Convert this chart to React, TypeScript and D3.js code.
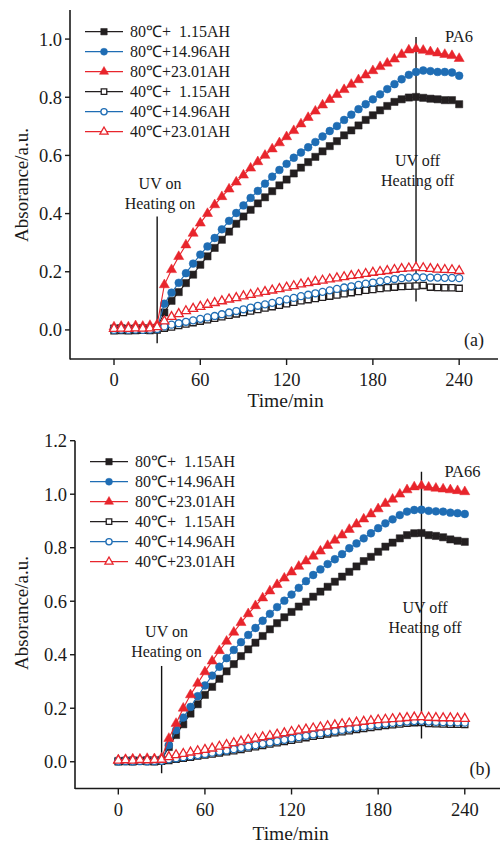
import React from 'react';
import * as d3 from 'd3';

// ---------- data ----------
const TIMES = [0, 5, 10, 15, 20, 25, 30, 35, 40, 45, 50, 55, 60, 65, 70, 75, 80, 85, 90, 95, 100, 105, 110, 115, 120, 125, 130, 135, 140, 145, 150, 155, 160, 165, 170, 175, 180, 185, 190, 195, 200, 205, 210, 215, 220, 225, 230, 235, 240];

// PA6 (panel a)
const PA6_80_115 = [0.005, 0.006, 0.004, 0.005, 0.006, 0.005, 0.008,
  0.06, 0.1, 0.13, 0.161, 0.19, 0.224, 0.253, 0.282, 0.31, 0.338,
  0.365, 0.39, 0.413, 0.435, 0.456, 0.477, 0.497, 0.517, 0.538, 0.558,
  0.577, 0.595, 0.614, 0.632, 0.649, 0.669, 0.686, 0.703, 0.722, 0.738,
  0.755, 0.77, 0.784, 0.793, 0.799, 0.801, 0.798, 0.795, 0.793, 0.79,
  0.79, 0.776];
const PA6_80_1496 = [0.003, 0.004, 0.003, 0.005, 0.004, 0.005, 0.006,
  0.09, 0.128, 0.162, 0.195, 0.228, 0.259, 0.287, 0.316, 0.346, 0.375,
  0.402, 0.428, 0.454, 0.478, 0.503, 0.527, 0.55, 0.571, 0.592, 0.61,
  0.628, 0.646, 0.665, 0.684, 0.701, 0.722, 0.74, 0.759, 0.776, 0.793,
  0.81, 0.828, 0.845, 0.862, 0.877, 0.887, 0.892, 0.89, 0.887, 0.887,
  0.885, 0.874];
const PA6_80_2301 = [0.01, 0.012, 0.01, 0.014, 0.012, 0.015, 0.018,
  0.155, 0.207, 0.252, 0.292, 0.332, 0.367, 0.4, 0.43, 0.458, 0.484,
  0.508, 0.532, 0.556, 0.578, 0.6, 0.622, 0.643, 0.664, 0.685, 0.708,
  0.73, 0.752, 0.773, 0.792, 0.809, 0.826, 0.844, 0.86, 0.876, 0.891,
  0.905, 0.917, 0.931, 0.947, 0.962, 0.966, 0.961, 0.956, 0.952, 0.947,
  0.943, 0.933];
const PA6_40_115 = [-0.003, -0.002, -0.003, -0.002, -0.001, -0.002, 0.0,
  0.006, 0.01, 0.015, 0.02, 0.025, 0.03, 0.035, 0.04, 0.045, 0.05,
  0.055, 0.06, 0.065, 0.07, 0.075, 0.08, 0.085, 0.09, 0.095, 0.1,
  0.104, 0.108, 0.112, 0.116, 0.12, 0.124, 0.128, 0.132, 0.136, 0.139,
  0.142, 0.145, 0.147, 0.149, 0.15, 0.151, 0.153, 0.147, 0.146, 0.145,
  0.145, 0.143];
const PA6_40_1496 = [0.0, 0.001, 0.0, 0.001, 0.0, 0.001, 0.003,
  0.012, 0.018, 0.023, 0.028, 0.033, 0.038, 0.043, 0.048, 0.054, 0.06,
  0.065, 0.071, 0.077, 0.083, 0.088, 0.093, 0.099, 0.105, 0.11, 0.116,
  0.121, 0.126, 0.131, 0.136, 0.141, 0.146, 0.15, 0.155, 0.159, 0.163,
  0.167, 0.171, 0.175, 0.178, 0.18, 0.182, 0.181, 0.18, 0.18, 0.179,
  0.179, 0.178];
const PA6_40_2301 = [0.004, 0.005, 0.004, 0.006, 0.005, 0.006, 0.01,
  0.03, 0.045, 0.055, 0.065, 0.073, 0.08, 0.087, 0.093, 0.099, 0.105,
  0.11, 0.116, 0.121, 0.126, 0.131, 0.136, 0.141, 0.146, 0.151, 0.157,
  0.161, 0.166, 0.17, 0.174, 0.178, 0.182, 0.186, 0.189, 0.193, 0.197,
  0.2, 0.203, 0.207, 0.21, 0.212, 0.215, 0.213, 0.21, 0.208, 0.207,
  0.206, 0.203];

// PA66 (panel b)
const PA66_80_115 = [0.003, 0.004, 0.005, 0.004, 0.006, 0.005, 0.007,
  0.055, 0.1, 0.14, 0.18, 0.215, 0.25, 0.28, 0.31, 0.338, 0.365,
  0.395, 0.42, 0.445, 0.47, 0.495, 0.518, 0.54, 0.56, 0.58, 0.598,
  0.617, 0.636, 0.654, 0.673, 0.692, 0.71, 0.73, 0.75, 0.766, 0.785,
  0.804, 0.819, 0.835, 0.847, 0.854, 0.855, 0.847, 0.844, 0.839, 0.831,
  0.826, 0.822];
const PA66_80_1496 = [0.004, 0.005, 0.006, 0.005, 0.007, 0.006, 0.009,
  0.062, 0.118, 0.165, 0.205, 0.245, 0.285, 0.322, 0.355, 0.387, 0.418,
  0.447, 0.474, 0.5, 0.527, 0.553, 0.578, 0.602, 0.625, 0.65, 0.675,
  0.698, 0.719, 0.739, 0.757, 0.776, 0.798, 0.816, 0.835, 0.854, 0.873,
  0.891, 0.906, 0.922, 0.935, 0.941, 0.942, 0.938, 0.936, 0.935, 0.931,
  0.929, 0.926];
const PA66_80_2301 = [0.006, 0.008, 0.01, 0.009, 0.012, 0.011, 0.014,
  0.087, 0.143, 0.2, 0.25, 0.293, 0.336, 0.376, 0.415, 0.45, 0.484,
  0.52, 0.553, 0.583, 0.612, 0.638, 0.662, 0.686, 0.709, 0.73, 0.75,
  0.768, 0.787, 0.808, 0.828, 0.847, 0.868, 0.888, 0.907, 0.926, 0.945,
  0.965, 0.981, 1.0, 1.016, 1.027, 1.031, 1.026, 1.022, 1.019, 1.016,
  1.013, 1.009];
const PA66_40_115 = [0.0, 0.001, 0.0, 0.002, 0.001, 0.0, 0.002,
  0.005, 0.009, 0.013, 0.017, 0.021, 0.025, 0.029, 0.033, 0.037, 0.041,
  0.046, 0.051, 0.056, 0.061, 0.066, 0.071, 0.076, 0.08, 0.085, 0.09,
  0.095, 0.099, 0.104, 0.108, 0.112, 0.116, 0.12, 0.124, 0.128, 0.132,
  0.135, 0.138, 0.141, 0.144, 0.146, 0.147, 0.143, 0.142, 0.141, 0.14,
  0.14, 0.139];
const PA66_40_1496 = [0.001, 0.002, 0.001, 0.002, 0.001, 0.002, 0.003,
  0.009, 0.013, 0.017, 0.021, 0.025, 0.029, 0.034, 0.038, 0.042, 0.047,
  0.052, 0.057, 0.062, 0.067, 0.072, 0.077, 0.082, 0.087, 0.092, 0.097,
  0.102, 0.106, 0.111, 0.115, 0.119, 0.123, 0.127, 0.131, 0.135, 0.139,
  0.142, 0.145, 0.148, 0.15, 0.152, 0.153, 0.15, 0.149, 0.148, 0.147,
  0.147, 0.146];
const PA66_40_2301 = [0.005, 0.006, 0.005, 0.007, 0.006, 0.007, 0.008,
  0.018, 0.025, 0.03, 0.035, 0.04, 0.045, 0.05, 0.057, 0.063, 0.07,
  0.076, 0.082, 0.087, 0.092, 0.097, 0.102, 0.107, 0.112, 0.117, 0.121,
  0.125, 0.129, 0.133, 0.137, 0.141, 0.144, 0.147, 0.15, 0.153, 0.156,
  0.158, 0.16, 0.162, 0.164, 0.166, 0.167, 0.165, 0.164, 0.163, 0.163,
  0.162, 0.161];

const LEGEND_LABELS = ['80℃+  1.15AH', '80℃+14.96AH', '80℃+23.01AH', '40℃+  1.15AH', '40℃+14.96AH', '40℃+23.01AH'];
const SERIES_COLORS = ['#231f20', '#1f6db4', '#e8252c', '#231f20', '#1f6db4', '#e8252c'];
const SERIES_SHAPES = ['square', 'circle', 'triangle', 'square', 'circle', 'triangle'];
const SERIES_FILLED = [true, true, true, false, false, false];

const X_TICKS = [0, 60, 120, 180, 240];
const Y_TICKS_A = [0, 0.2, 0.4, 0.6, 0.8, 1.0];
const Y_TICKS_B = [0, 0.2, 0.4, 0.6, 0.8, 1.0, 1.2];

const EVENT_TIMES = [30, 210];
const EVENT_SPANS_A = [[-0.046, 0.39], [0.098, 1.007]];
const EVENT_SPANS_B = [[-0.043, 0.358], [0.087, 1.084]];

const FONT = '"Liberation Serif", "Times New Roman", Times, serif';

const symbolType = (s: string) =>
  s === 'square' ? d3.symbolSquare : s === 'circle' ? d3.symbolCircle : d3.symbolTriangle;

function markerPath(shape: string, filled: boolean, scale = 1) {
  const size = filled
    ? (shape === 'square' ? 52 : shape === 'circle' ? 48 : 44)
    : (shape === 'square' ? 38 : shape === 'circle' ? 38 : 36);
  return d3.symbol().type(symbolType(shape)).size(size * scale)() as string;
}

type PanelProps = {
  series: number[][];
  xDomain: [number, number];
  xRange: [number, number];
  yDomain: [number, number];
  yRange: [number, number];
  yTicks: number[];
  spans: number[][];
  legendY: number;
  legendX: number;
  uvOn: [number, number];
  uvOff: [number, number];
  name: string;
  namePos: [number, number];
  tag: string;
  tagPos: [number, number];
  yLabelY: number;
  xLabelY: number;
};

function Panel(p: PanelProps) {
  const x = d3.scaleLinear().domain(p.xDomain).range(p.xRange);
  const y = d3.scaleLinear().domain(p.yDomain).range(p.yRange);
  const line = d3.line<number>().x((_, i) => x(TIMES[i])).y((d) => y(d));
  const fmt = d3.format('.1f');
  const axisX = p.xRange[0];
  const axisY = p.yRange[0];
  const ink = '#1a1a1a';
  return (
    <g fontFamily={FONT}>
      {/* axes */}
      <line x1={axisX} x2={axisX} y1={p.yRange[1]} y2={axisY + 0.5} stroke={ink} strokeWidth={1.6} />
      <line x1={axisX} x2={p.xRange[1]} y1={axisY} y2={axisY} stroke={ink} strokeWidth={1.6} />
      {p.yTicks.map((t) => (
        <g key={'y' + t}>
          <line x1={axisX - 5} x2={axisX} y1={y(t)} y2={y(t)} stroke={ink} strokeWidth={1.4} />
          <text x={axisX - 8} y={y(t)} dy="0.35em" textAnchor="end" fontSize={18.5} fill={ink}>{fmt(t)}</text>
        </g>
      ))}
      {X_TICKS.map((t) => (
        <g key={'x' + t}>
          <line x1={x(t)} x2={x(t)} y1={axisY} y2={axisY + 6} stroke={ink} strokeWidth={1.4} />
          <text x={x(t)} y={axisY + 27} textAnchor="middle" fontSize={18.5} fill={ink}>{t}</text>
        </g>
      ))}
      <text transform={`translate(21,${p.yLabelY}) rotate(-90)`} dy="0.35em" textAnchor="middle" fontSize={19} fill={ink}>Absorance/a.u.</text>
      <text x={x(120) - 1} y={p.xLabelY} textAnchor="middle" fontSize={19.5} fill={ink}>Time/min</text>

      {/* event lines */}
      {EVENT_TIMES.map((t, i) => (
        <line key={'ev' + t} x1={x(t)} x2={x(t)} y1={y(p.spans[i][0])} y2={y(p.spans[i][1])} stroke="#111" strokeWidth={1.4} />
      ))}

      {/* series */}
      {p.series.map((vals, si) => (
        <g key={'s' + si}>
          <path d={line(vals) as string} fill="none" stroke={SERIES_COLORS[si]} strokeWidth={1.1} />
          {vals.map((v, i) => (
            <path
              key={i}
              d={markerPath(SERIES_SHAPES[si], SERIES_FILLED[si])}
              transform={`translate(${x(TIMES[i])},${y(v)})`}
              fill={SERIES_FILLED[si] ? SERIES_COLORS[si] : '#fff'}
              stroke={SERIES_COLORS[si]}
              strokeWidth={SERIES_FILLED[si] ? 0.5 : 1.3}
            />
          ))}
        </g>
      ))}

      {/* legend */}
      {LEGEND_LABELS.map((lab, i) => {
        const ly = p.legendY + i * 20;
        const lx = p.legendX;
        return (
          <g key={'lg' + i}>
            <line x1={lx} x2={lx + 38} y1={ly} y2={ly} stroke={SERIES_COLORS[i]} strokeWidth={1.3} />
            <path
              d={markerPath(SERIES_SHAPES[i], SERIES_FILLED[i], 0.8)}
              transform={`translate(${lx + 19},${ly})`}
              fill={SERIES_FILLED[i] ? SERIES_COLORS[i] : '#fff'}
              stroke={SERIES_COLORS[i]}
              strokeWidth={SERIES_FILLED[i] ? 0.5 : 1.3}
            />
            <text x={lx + 45} y={ly + 5.5} fontSize={16} fill={ink} style={{ whiteSpace: 'pre' }}>{lab}</text>
          </g>
        );
      })}

      {/* annotations */}
      <text x={p.uvOn[0]} y={p.uvOn[1]} textAnchor="middle" fontSize={16} fill={ink}>UV on</text>
      <text x={p.uvOn[0]} y={p.uvOn[1] + 19.5} textAnchor="middle" fontSize={16} fill={ink}>Heating on</text>
      <text x={p.uvOff[0]} y={p.uvOff[1]} textAnchor="middle" fontSize={16} fill={ink}>UV off</text>
      <text x={p.uvOff[0]} y={p.uvOff[1] + 19.5} textAnchor="middle" fontSize={16} fill={ink}>Heating off</text>
      <text x={p.namePos[0]} y={p.namePos[1]} textAnchor="middle" fontSize={16.5} fill={ink}>{p.name}</text>
      <text x={p.tagPos[0]} y={p.tagPos[1]} textAnchor="middle" fontSize={18} fill={ink}>{p.tag}</text>
    </g>
  );
}

export default function App() {
  return (
    <div style={{ position: 'fixed', left: 0, top: 0 }}>
      <svg width={500} height={844} style={{ display: 'block', background: '#fff' }}>
        <Panel
          series={[PA6_80_115, PA6_80_1496, PA6_80_2301, PA6_40_115, PA6_40_1496, PA6_40_2301]}
          xDomain={[-30.6, 267]}
          xRange={[70, 498]}
          yDomain={[-0.1, 1.1]}
          yRange={[359, 10]}
          yTicks={Y_TICKS_A}
          spans={EVENT_SPANS_A}
          legendY={31.7}
          legendX={85}
          uvOn={[160, 189]}
          uvOff={[417.5, 166]}
          name="PA6"
          namePos={[459, 42]}
          tag="(a)"
          tagPos={[474, 346]}
          yLabelY={185}
          xLabelY={407}
        />
        <Panel
          series={[PA66_80_115, PA66_80_1496, PA66_80_2301, PA66_40_115, PA66_40_1496, PA66_40_2301]}
          xDomain={[-30, 264.4]}
          xRange={[75, 500]}
          yDomain={[-0.1, 1.2]}
          yRange={[788.5, 440.7]}
          yTicks={Y_TICKS_B}
          spans={EVENT_SPANS_B}
          legendY={461.7}
          legendX={90}
          uvOn={[166.5, 637]}
          uvOff={[425, 613]}
          name="PA66"
          namePos={[462.5, 477]}
          tag="(b)"
          tagPos={[480, 775]}
          yLabelY={613}
          xLabelY={840}
        />
      </svg>
    </div>
  );
}
